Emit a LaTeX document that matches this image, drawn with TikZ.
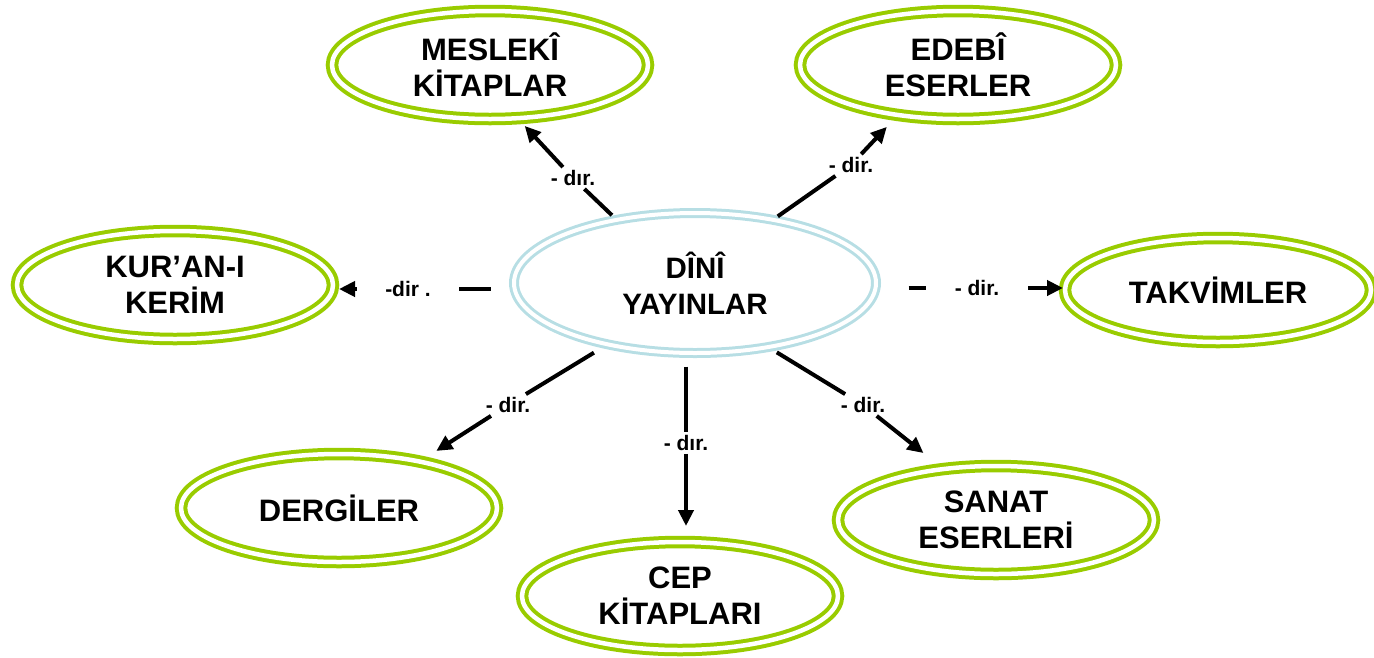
\documentclass[tikz,border=0pt]{standalone}
\usepackage{fontspec}
\setmainfont{Liberation Sans}
\usetikzlibrary{shapes.geometric,arrows.meta}
\definecolor{lgreen}{RGB}{153,204,0}
\definecolor{lblue}{RGB}{183,222,228}
\begin{document}
\begin{tikzpicture}[x=1pt,y=-1pt,
  bubble/.style={ellipse, draw=lgreen, double=white, double distance=4.5pt, line width=4pt,
    minimum width=316pt, minimum height=108pt, inner sep=0pt, align=center,
    font=\fontsize{31}{36}\selectfont\bfseries},
  hub/.style={ellipse, draw=lblue, double=white, double distance=4pt, line width=3pt,
    minimum width=362pt, minimum height=140pt, inner sep=0pt, align=center,
    font=\fontsize{29.5}{36}\selectfont\bfseries},
  rel/.style={fill=white, inner sep=3pt, font=\fontsize{21}{24}\selectfont\bfseries},
  link/.style={line width=4pt},
  arr/.style={line width=4pt, -{Triangle[length=16pt,width=15pt]}}
]
\useasboundingbox (0,0) rectangle (1374,657);

\node[hub] (c) at (695,283) {DÎNÎ\\YAYINLAR};
\node[bubble] (m) at (490,65) {MESLEKÎ\\KİTAPLAR};
\node[bubble] (e) at (958,65) {EDEBÎ\\ESERLER};
\node[bubble] (k) at (175,285) {KUR’AN-I\\KERİM};
\node[bubble, minimum width=306pt, minimum height=104pt] (t) at (1218,290) {TAKVİMLER};
\node[bubble] (d) at (339,508) {DERGİLER};
\node[bubble] (p) at (680,596) {CEP\\KİTAPLARI};
\node[bubble] (s) at (996,520) {SANAT\\ESERLERİ};

\node[rel] (l1) at (573,178) {- dır.};
\node[rel] (l2) at (851,165) {- dir.};
\node[rel, minimum width=102pt] (l3) at (408,289) {-dir .};
\node[rel, minimum width=102pt] (l4) at (977,288) {- dir.};
\node[rel] (l5) at (508,405) {- dir.};
\node[rel] (l6) at (686,443) {- dır.};
\node[rel] (l7) at (863,405) {- dir.};

\draw[link, shorten <=5pt] (c.141.5) -- (l1);
\draw[arr, shorten >=8pt] (l1) -- (m.298.8);
\draw[link, shorten <=4pt] (c.39.5) -- (l2);
\draw[arr, shorten >=14pt] (l2) -- (e.220.1);
\draw[link, shorten <=22pt] (l3 -| c.west) -- (l3);
\draw[arr, shorten >=4pt] (l3) -- (l3 -| k.east);
\draw[link, shorten <=31pt] (l4 -| c.east) -- (l4);
\draw[arr] (l4) -- (l4 -| t.west);
\draw[link, shorten <=14pt] (c.215.5) -- (l5);
\draw[arr, shorten >=17pt] (l5) -- (d.30.1);
\draw[link, shorten <=12pt] (l6 |- c.south) -- (l6);
\draw[arr, shorten >=14pt] (l6) -- (l6 |- p.north);
\draw[link, shorten <=8pt] (c.319.2) -- (l7);
\draw[arr, shorten >=23pt] (l7) -- (s.136.3);
\end{tikzpicture}
\end{document}
